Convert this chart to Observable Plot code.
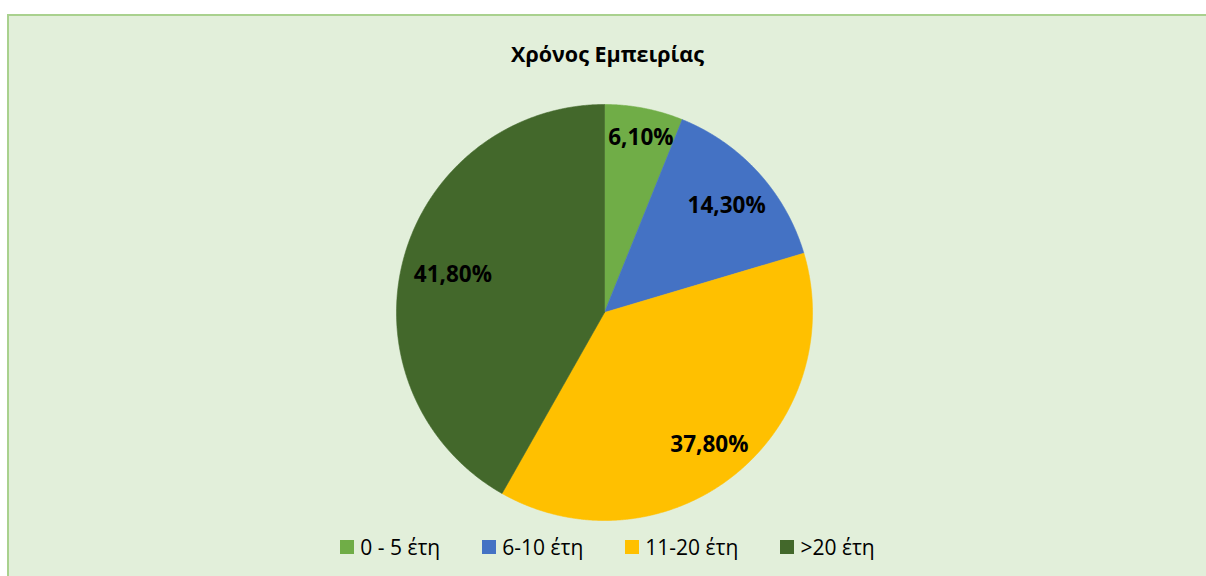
<!DOCTYPE html>
<html><head><meta charset="utf-8">
<script src="https://cdn.jsdelivr.net/npm/d3@7"></script>
<script src="https://cdn.jsdelivr.net/npm/@observablehq/plot@0.6"></script>
<style>
html,body{margin:0;padding:0;background:#fff;width:1206px;height:576px;overflow:hidden;}
#frame{position:absolute;left:7px;top:14px;width:1197px;height:560px;background:#E2EFDA;border-left:2px solid #A9D18E;border-top:2px solid #A9D18E;font-family:"Open Sans",sans-serif;}
#title{position:absolute;left:0;top:22px;width:100%;text-align:center;font-weight:bold;font-size:21.5px;line-height:32px;color:#000;}
#chart{position:absolute;left:0;top:0;}
#legend{position:absolute;left:0;top:515px;width:100%;height:32px;display:flex;justify-content:center;align-items:center;font-size:21px;line-height:32px;color:#000;}
.item{display:flex;align-items:center;margin:0 21px;}
.sw{width:14px;height:14px;margin-right:6px;}
</style></head>
<body>
<div id="frame">
  <div id="chart"></div>
  <div id="title">Χρόνος Εμπειρίας</div>
  <div id="legend"></div>
</div>
<script>
const categories = ["0 - 5 έτη", "6-10 έτη", "11-20 έτη", ">20 έτη"];
const values = [6.1, 14.3, 37.8, 41.8];
const labels = ["6,10%", "14,30%", "37,80%", "41,80%"];
const colors = ["#70AD47", "#4472C4", "#FFC000", "#43682B"];

const W = 1197, H = 510, cx = 595, cy = 296, R = 208;

const total = d3.sum(values);
let acc = 0;
const slices = values.map((v, i) => {
  const a0 = acc / total * 2 * Math.PI; acc += v;
  const a1 = acc / total * 2 * Math.PI;
  return {cat: categories[i], a0, a1, label: labels[i]};
});
const pts = [];
for (const s of slices) {
  pts.push({cat: s.cat, x: 0, y: 0});
  const n = Math.max(2, Math.ceil((s.a1 - s.a0) / 0.004));
  for (let k = 0; k <= n; k++) {
    const a = s.a0 + (s.a1 - s.a0) * k / n;
    pts.push({cat: s.cat, x: Math.sin(a), y: Math.cos(a)});
  }
  pts.push({cat: s.cat, x: 0, y: 0});
}
// label placement: text box fitted against the inside end of each slice
const charW = 13.2, boxH = 22, pad = 8, T = R - pad;
const labelPts = slices.map(s => {
  const m = (s.a0 + s.a1) / 2;
  const ux = Math.sin(m), uy = Math.cos(m);
  const p = s.label.length * charW / 2, q = boxH / 2;
  const B = Math.abs(ux) * p + Math.abs(uy) * q;
  const d = -B + Math.sqrt(B * B - (p * p + q * q - T * T));
  return {label: s.label, x: ux * d / R, y: uy * d / R};
});

const plot = Plot.plot({
  width: W, height: H, margin: 0,
  x: {domain: [-1, 1], range: [cx - R, cx + R], axis: null},
  y: {domain: [-1, 1], range: [cy + R, cy - R], axis: null},
  color: {domain: categories, range: colors},
  style: {background: "transparent", fontFamily: "Open Sans, sans-serif"},
  marks: [
    Plot.line(pts, {x: "x", y: "y", z: "cat", fill: "cat", stroke: "cat", strokeWidth: 0.6, curve: "linear"}),
    Plot.text(labelPts, {x: "x", y: "y", text: "label", dx: 2, dy: 3, fontSize: 22.5, fontWeight: "bold", fill: "#000"})
  ]
});
document.getElementById("chart").appendChild(plot);

const legend = document.getElementById("legend");
categories.forEach((c, i) => {
  const it = document.createElement("div"); it.className = "item";
  const sw = document.createElement("div"); sw.className = "sw"; sw.style.background = colors[i];
  const t = document.createElement("span"); t.textContent = c;
  it.appendChild(sw); it.appendChild(t); legend.appendChild(it);
});
</script>
</body></html>
